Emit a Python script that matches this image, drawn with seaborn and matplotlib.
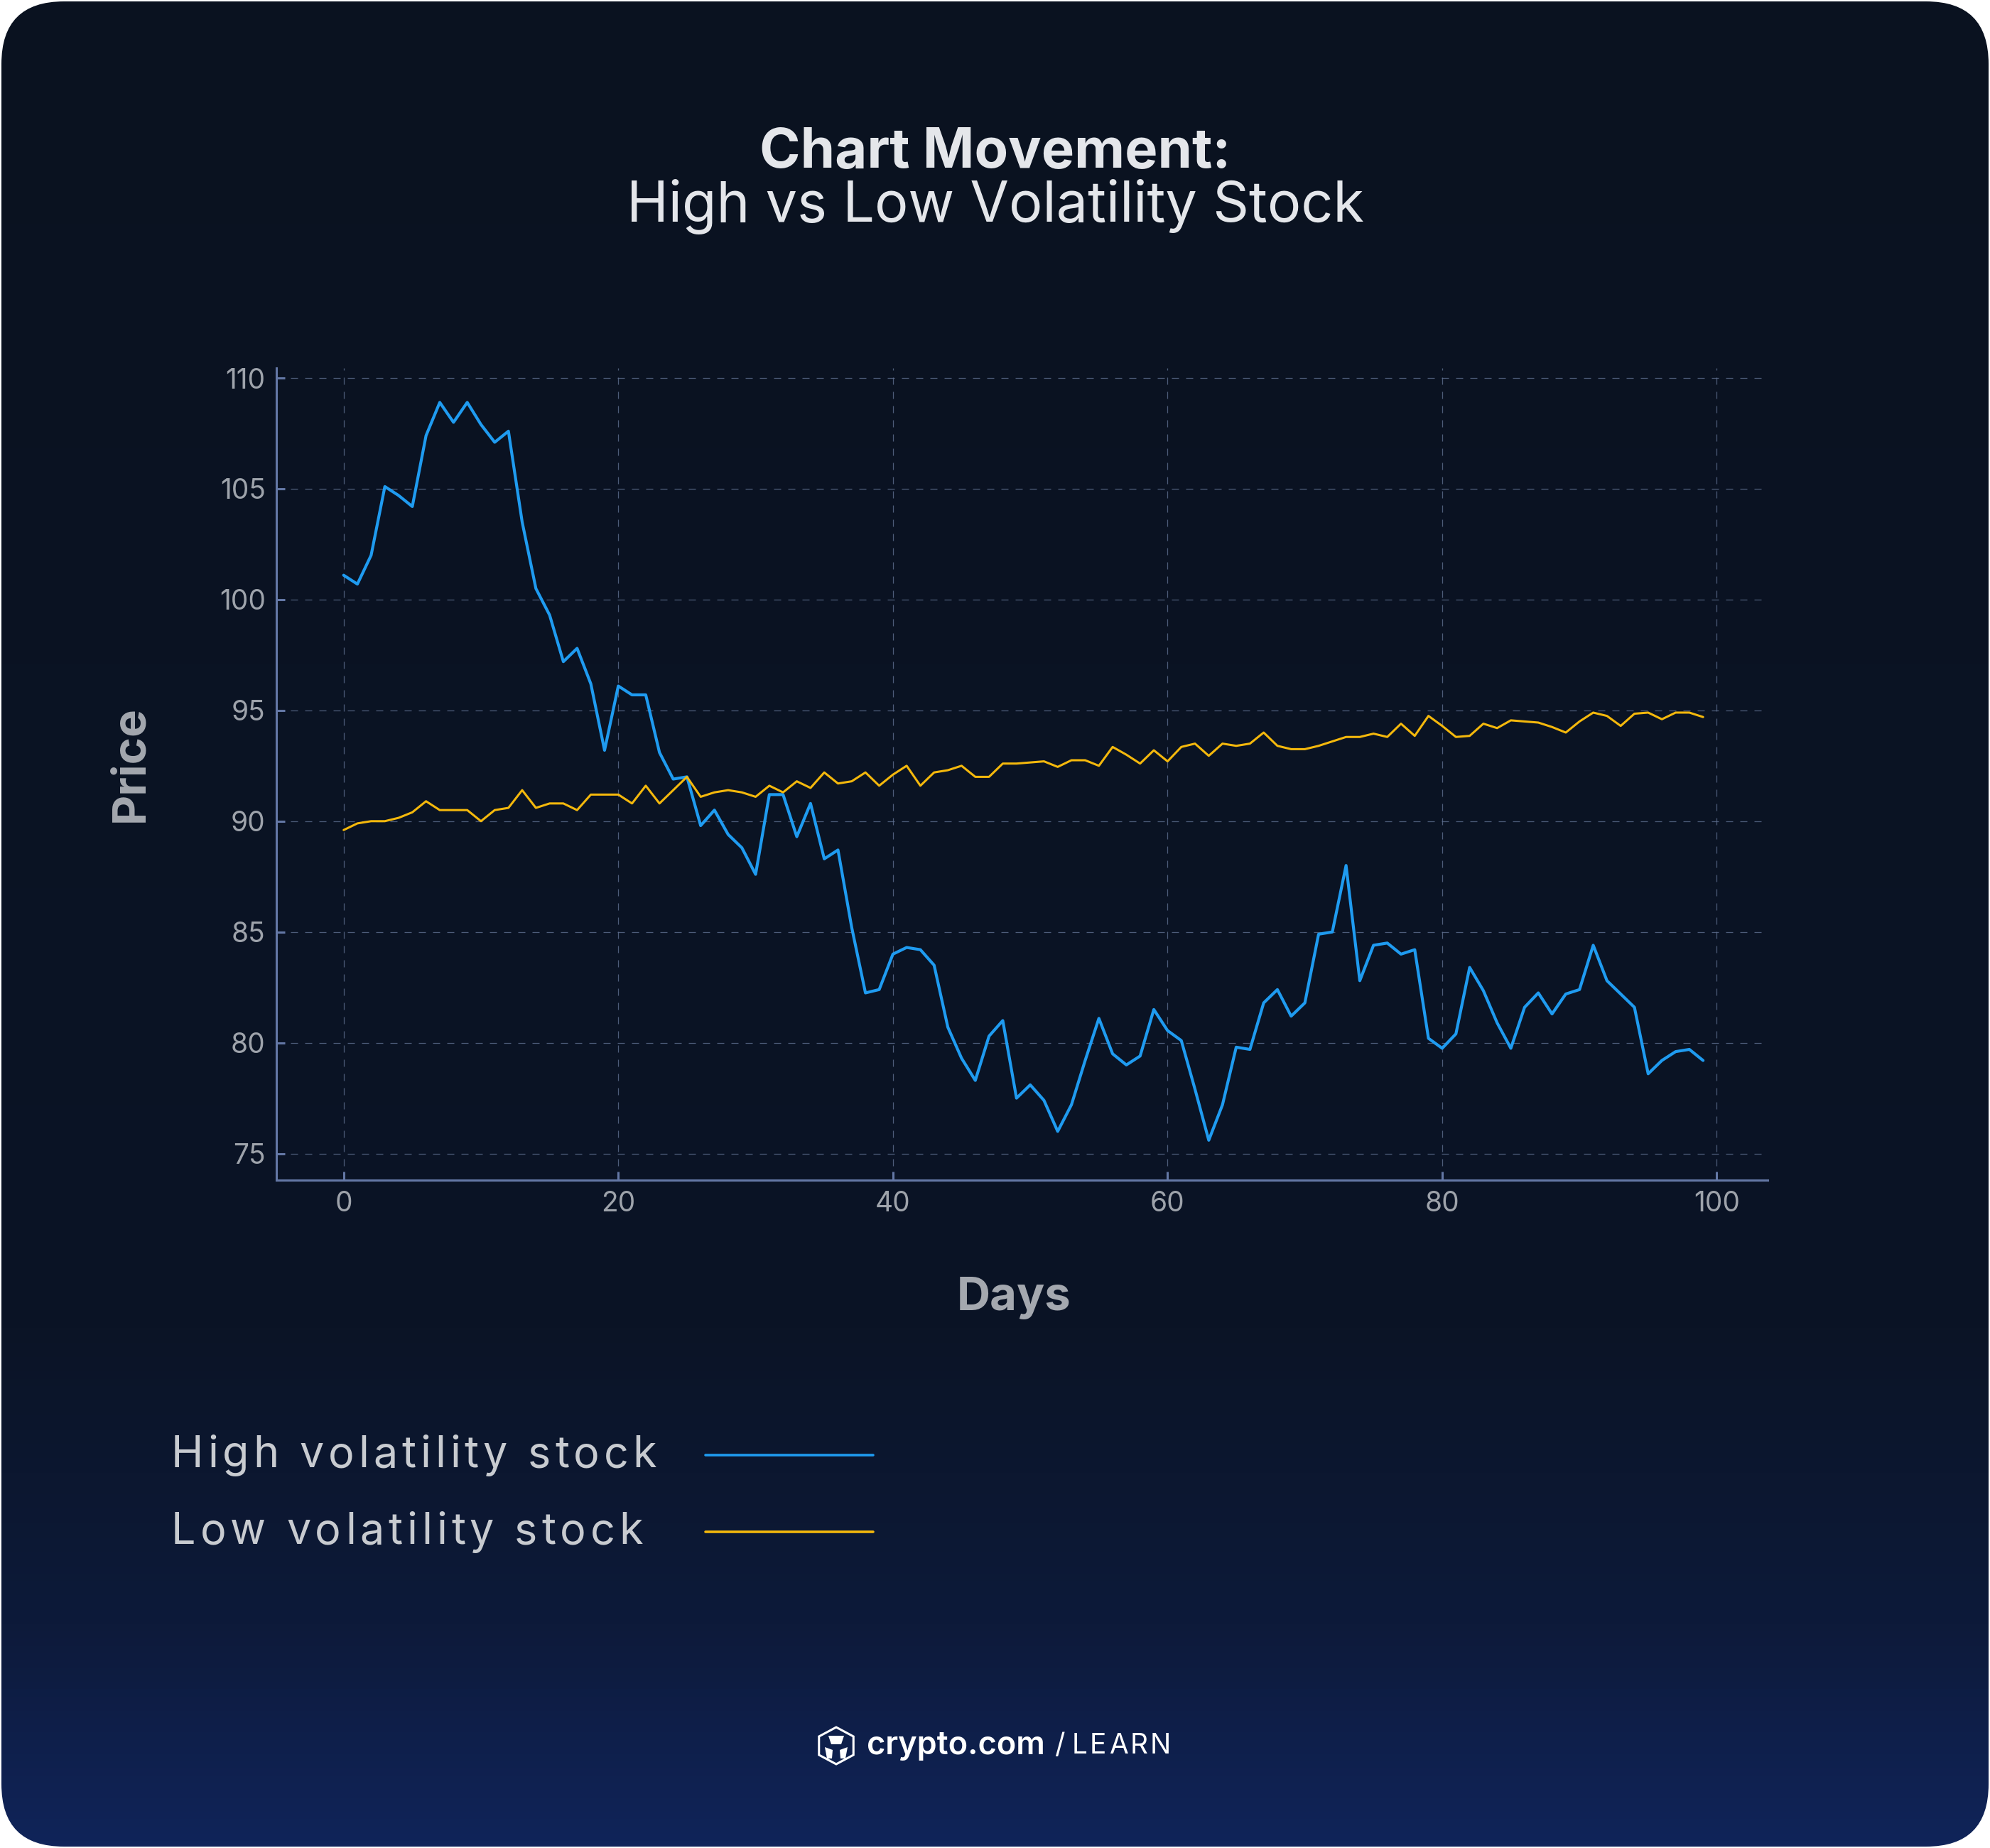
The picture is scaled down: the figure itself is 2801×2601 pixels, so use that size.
import numpy as np
import pandas as pd
import matplotlib
matplotlib.use("Agg")
import matplotlib.pyplot as plt
import seaborn as sns
from matplotlib.patches import FancyBboxPatch, RegularPolygon, Polygon
from matplotlib.colors import LinearSegmentedColormap
from matplotlib.lines import Line2D
from matplotlib.font_manager import FontProperties

# Data
days = list(range(100))
high_vol = [101.1, 100.7, 102.0, 105.1, 104.7, 104.2, 107.4, 108.9, 108.0, 108.9,
            107.9, 107.1, 107.6, 103.5, 100.5, 99.3, 97.2, 97.8, 96.2, 93.2,
            96.1, 95.7, 95.7, 93.1, 91.9, 92.0, 89.8, 90.5, 89.4, 88.8,
            87.6, 91.2, 91.2, 89.3, 90.8, 88.3, 88.7, 85.2, 82.25, 82.4,
            84.0, 84.3, 84.2, 83.5, 80.7, 79.3, 78.3, 80.3, 81.0, 77.5,
            78.1, 77.4, 76.0, 77.2, 79.2, 81.1, 79.5, 79.0, 79.4, 81.5,
            80.55, 80.1, 77.9, 75.6, 77.2, 79.8, 79.7, 81.8, 82.4, 81.2,
            81.8, 84.9, 85.0, 88.0, 82.8, 84.4, 84.5, 84.0, 84.2, 80.2,
            79.75, 80.4, 83.4, 82.35, 80.9, 79.75, 81.6, 82.25, 81.3, 82.2,
            82.4, 84.4, 82.8, 82.2, 81.6, 78.6, 79.2, 79.6, 79.7, 79.2]
low_vol = [89.6, 89.9, 90.0, 90.0, 90.15, 90.4, 90.9, 90.5, 90.5, 90.5,
           90.0, 90.5, 90.6, 91.4, 90.6, 90.8, 90.8, 90.5, 91.2, 91.2,
           91.2, 90.8, 91.6, 90.8, 91.4, 92.0, 91.1, 91.3, 91.4, 91.3,
           91.1, 91.6, 91.3, 91.8, 91.5, 92.2, 91.7, 91.8, 92.2, 91.6,
           92.1, 92.5, 91.6, 92.2, 92.3, 92.5, 92.0, 92.0, 92.6, 92.6,
           92.65, 92.7, 92.45, 92.75, 92.75, 92.5, 93.35, 93.0, 92.6, 93.2,
           92.7, 93.35, 93.5, 92.95, 93.5, 93.4, 93.5, 94.0, 93.4, 93.25,
           93.25, 93.4, 93.6, 93.8, 93.8, 93.95, 93.8, 94.4, 93.85, 94.75,
           94.3, 93.8, 93.85, 94.4, 94.2, 94.55, 94.5, 94.45, 94.25, 94.0,
           94.5, 94.9, 94.75, 94.3, 94.85, 94.9, 94.6, 94.9, 94.9, 94.7]
series_names = ["High volatility stock", "Low volatility stock"]
x_ticks = [0, 20, 40, 60, 80, 100]
y_ticks = [75, 80, 85, 90, 95, 100, 105, 110]

BLUE = "#1f9bf0"
YELLOW = "#f4b80c"
SPINE = "#6478a6"
GRID = "#5f6f8f"
TICKTXT = "#9ea3ab"
LABEL = "#a4a8af"

W, H = 2801, 2601

sns.set_style("ticks")
plt.rcParams["font.family"] = ["Inter", "DejaVu Sans"]

fig = plt.figure(figsize=(W / 100, H / 100), dpi=100)
fig.patch.set_facecolor("white")
renderer = fig.canvas.get_renderer()


def tracked_text(x_px, y_px, s, size, track, weight="normal", color="white"):
    # place characters one by one to get the wide letter spacing
    fp = FontProperties(family=["Inter", "DejaVu Sans"], size=size, weight=weight)
    base = renderer.get_text_width_height_descent("HH", fp, ismath=False)[0]
    x = x_px
    for ch in s:
        adv = renderer.get_text_width_height_descent("H" + ch + "H", fp, ismath=False)[0] - base
        if ch != " ":
            fig.text(x / W, 1 - y_px / H, ch, ha="left", va="center", fontproperties=fp,
                     color=color)
        x += adv + track
    return x


# rounded background card with vertical gradient
bg = fig.add_axes([0, 0, 1, 1], zorder=-10)
bg.set_xlim(0, W)
bg.set_ylim(0, H)
bg.axis("off")
cmap = LinearSegmentedColormap.from_list(
    "card", [(0.0, "#10245a"), (0.12, "#0d1a3a"), (0.28, "#0b1426"), (1.0, "#0a1220")])
grad = np.linspace(0, 1, 512).reshape(-1, 1)
im = bg.imshow(grad, cmap=cmap, extent=[0, W, 0, H], origin="lower", aspect="auto")
card = FancyBboxPatch((2, 2), W - 4, H - 4, boxstyle="round,pad=0,rounding_size=88",
                      transform=bg.transData, facecolor="none", edgecolor="none")
bg.add_patch(card)
im.set_clip_path(card)

# main axes
left, right, top, bottom = 389, 2488, 518, 1661
ax = fig.add_axes([left / W, 1 - bottom / H, (right - left) / W, (bottom - top) / H])
ax.patch.set_alpha(0)

df = pd.DataFrame({"Days": days, series_names[0]: high_vol, series_names[1]: low_vol})
sns.lineplot(data=df, x="Days", y=series_names[0], ax=ax, color=BLUE, lw=3.0)
sns.lineplot(data=df, x="Days", y=series_names[1], ax=ax, color=YELLOW, lw=2.2)

ax.set_xticks(x_ticks)
ax.set_yticks(y_ticks)
ax.set_xlim(-4.9, 103.7)
ax.set_ylim(73.8, 110.45)
ax.grid(True, color=GRID, lw=0.9, ls=(0, (8, 8)), alpha=0.8)
for s in ["top", "right"]:
    ax.spines[s].set_visible(False)
for s in ["left", "bottom"]:
    ax.spines[s].set_color(SPINE)
    ax.spines[s].set_linewidth(2.2)
ax.tick_params(direction="in", length=8.5, width=2.2, color=SPINE,
               labelsize=28, labelcolor=TICKTXT, pad=11)
ax.set_xlabel("Days", fontsize=47, fontweight="bold", color=LABEL, labelpad=60)
ax.set_ylabel("Price", fontsize=47, fontweight="bold", color=LABEL, labelpad=68)

# nudge the axis labels a little off-centre, as in the reference
fig.canvas.draw()
axbb = ax.get_window_extent(renderer)
xl = ax.xaxis.label.get_window_extent(renderer)
yl = ax.yaxis.label.get_window_extent(renderer)
ax.xaxis.set_label_coords(0.4945, (xl.y1 - axbb.y0) / axbb.height)
ax.yaxis.set_label_coords((yl.x1 - axbb.x0) / axbb.width, 0.5127)

# title
fig.text(0.5, 1 - 216 / H, "Chart Movement:", ha="center", va="center",
         fontsize=56, fontweight="bold", color="#e4e6ea")
fig.text(0.5, 1 - 291 / H, "High vs Low Volatility Stock", ha="center", va="center",
         fontsize=57, color="#e4e6ea")

# legend below the chart
for name, col, yp in [(series_names[0], BLUE, 2045), (series_names[1], YELLOW, 2153)]:
    tracked_text(241, yp + 4, name, 44, 5.9, color="#c8cbd0")
    fig.add_artist(Line2D([993 / W, 1229 / W], [1 - (yp + 3) / H] * 2, color=col, lw=2.6,
                          transform=fig.transFigure))

# footer logo
hx, hy = 1177, 2457
fig.add_artist(RegularPolygon((hx / W, 1 - hy / H), numVertices=6, radius=28 / W,
                              orientation=0, transform=fig.transFigure,
                              facecolor="none", edgecolor="white", lw=2.2))
fig.add_artist(Polygon([[(hx - 11) / W, 1 - (hy - 14) / H], [(hx + 11) / W, 1 - (hy - 14) / H],
                        [(hx + 7) / W, 1 - (hy - 2) / H], [(hx - 7) / W, 1 - (hy - 2) / H]],
                       closed=True, transform=fig.transFigure, facecolor="white", edgecolor="none"))
fig.add_artist(Polygon([[(hx - 16) / W, 1 - (hy + 2) / H], [(hx - 5) / W, 1 - (hy + 6) / H],
                        [(hx - 6) / W, 1 - (hy + 18) / H], [(hx - 13) / W, 1 - (hy + 18) / H]],
                       closed=True, transform=fig.transFigure, facecolor="white", edgecolor="none"))
fig.add_artist(Polygon([[(hx + 16) / W, 1 - (hy + 2) / H], [(hx + 5) / W, 1 - (hy + 6) / H],
                        [(hx + 6) / W, 1 - (hy + 18) / H], [(hx + 13) / W, 1 - (hy + 18) / H]],
                       closed=True, transform=fig.transFigure, facecolor="white", edgecolor="none"))
fig.text(1220 / W, 1 - hy / H, "crypto.com", ha="left", va="center", fontsize=32.5,
         fontweight="semibold", color="white")
fig.text(1484 / W, 1 - hy / H, "/", ha="left", va="center", fontsize=29, color="white")
tracked_text(1509, hy, "LEARN", 28, 3.2)

fig.savefig("out.png", dpi=100, facecolor=fig.get_facecolor())
